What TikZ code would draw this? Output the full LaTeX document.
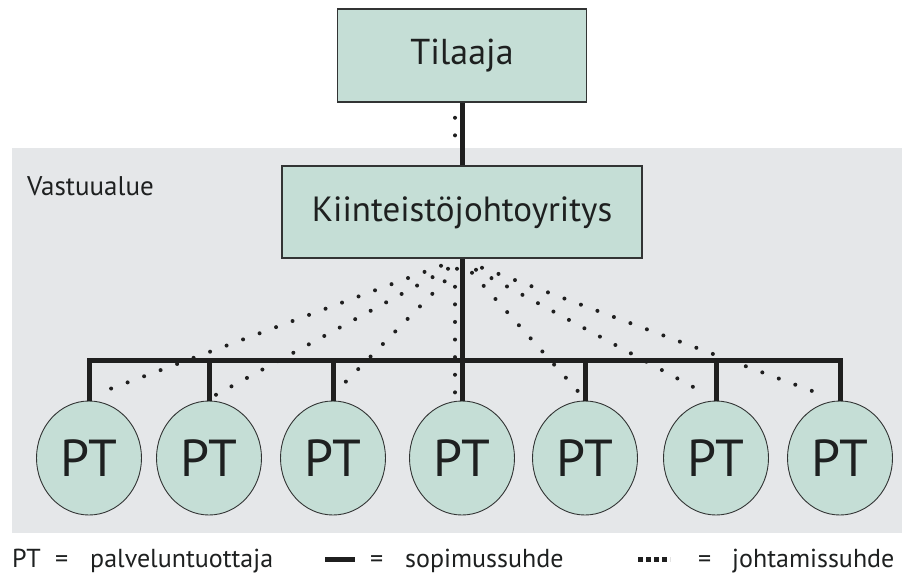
\documentclass[tikz,border=0pt]{standalone}
\usepackage{fontspec}
\setmainfont{PT Sans}
\usetikzlibrary{shapes.geometric,calc}
\definecolor{zonegrey}{RGB}{229,231,233}
\definecolor{boxfill}{RGB}{197,222,214}
\definecolor{inkdark}{RGB}{30,32,32}
\definecolor{edgedark}{RGB}{50,52,52}
\begin{document}
\begin{tikzpicture}[x=1pt,y=-1pt,
  orgbox/.style={draw=edgedark, line width=1.5pt, fill=boxfill, inner sep=0pt, text=inkdark},
  ptnode/.style={ellipse, draw=edgedark, line width=0.9pt, fill=boxfill, inner sep=0pt,
    minimum width=105pt, minimum height=114pt, text=inkdark,
    font=\fontsize{52}{60}\selectfont},
  contract/.style={draw=black!88, line width=5pt, line cap=butt, line join=miter},
  manage/.style={draw=black!88, line width=4pt, line cap=round, dash pattern=on 0pt off 17.6pt},
  legendtext/.style={anchor=base west, inner sep=0pt, text=inkdark, font=\fontsize{26}{30}\selectfont}]
\useasboundingbox (0,0) rectangle (902,574);
% responsibility area
\fill[zonegrey] (12,148) rectangle (902,533);
\node[anchor=base west, inner sep=0pt, text=inkdark, font=\fontsize{27}{31}\selectfont] (zone) at (27,195) {Vastuualue};

% organisation boxes
\node[orgbox, minimum width=249pt, minimum height=93pt, font=\fontsize{36}{42}\selectfont] (tilaaja) at (462,55.5) {Tilaaja};
\node[orgbox, minimum width=360pt, minimum height=92pt, text height=25pt, text depth=6pt,
  font=\fontsize{35}{41}\selectfont] (kjy) at (462,212) {Kiinteistöjohtoyritys};

% service providers
\foreach \i/\cx in {1/89, 2/209, 3/333, 4/462, 5/585, 6/716, 7/840}
  \node[ptnode] (pt\i) at (\cx,458) {PT};

\coordinate (bus) at (462,360);

% management relations (dotted)
\draw[manage] ($(tilaaja.south)+(-7,15)$) -- ($(kjy.north)+(-7,-13)$);
\draw[manage] ($(kjy.south)+(-21,7)$)  -- ($(pt1.north)+(14,-9)$);
\draw[manage] ($(kjy.south)+(-14,10)$) -- ($(pt2.north)+(0,-2)$);
\draw[manage] ($(kjy.south)+(-5,10)$)  -- ($(pt3.north)+(10,-16)$);
\draw[manage] ($(kjy.south)+(-7,28)$)  -- ($(pt4.north)+(-7,-2)$);
\draw[manage] ($(kjy.south)+(10,14)$)  -- ($(pt5.north)+(-5,-7)$);
\draw[manage] ($(kjy.south)+(14,11)$)  -- ($(pt6.north)+(-18,-11)$);
\draw[manage] ($(kjy.south)+(20,9)$)   -- ($(pt7.north)+(-21,-7)$);

% contract relations (solid)
\draw[contract] (tilaaja.south) -- (kjy.north);
\draw[contract] (kjy.south) -- (pt4.north);
\draw[contract] (pt1.north) |- (bus) -| (pt7.north);
\foreach \i in {2,3,5,6}
  \draw[contract] (pt\i.north) -- (pt\i.north |- bus);

% legend
\node[legendtext] (lgpt) at (12,567) {PT};
\node[legendtext] (lgeq1) at (55,567) {=};
\node[legendtext] (lgpt2) at (90,567) {palveluntuottaja};
\coordinate (lgsolidA) at (325,559);
\coordinate (lgsolidB) at (355,559);
\draw[contract] (lgsolidA) -- (lgsolidB);
\node[legendtext] (lgeq2) at (370,567) {=};
\node[legendtext] (lgsop) at (405,567) {sopimussuhde};
\coordinate (lgdotA) at (638,559);
\coordinate (lgdotB) at (670,559);
\draw[draw=black!88, line width=5pt, dash pattern=on 5pt off 3pt] (lgdotA) -- (lgdotB);
\node[legendtext] (lgeq3) at (698,567) {=};
\node[legendtext] (lgjoh) at (732,567) {johtamissuhde};
\end{tikzpicture}
\end{document}
